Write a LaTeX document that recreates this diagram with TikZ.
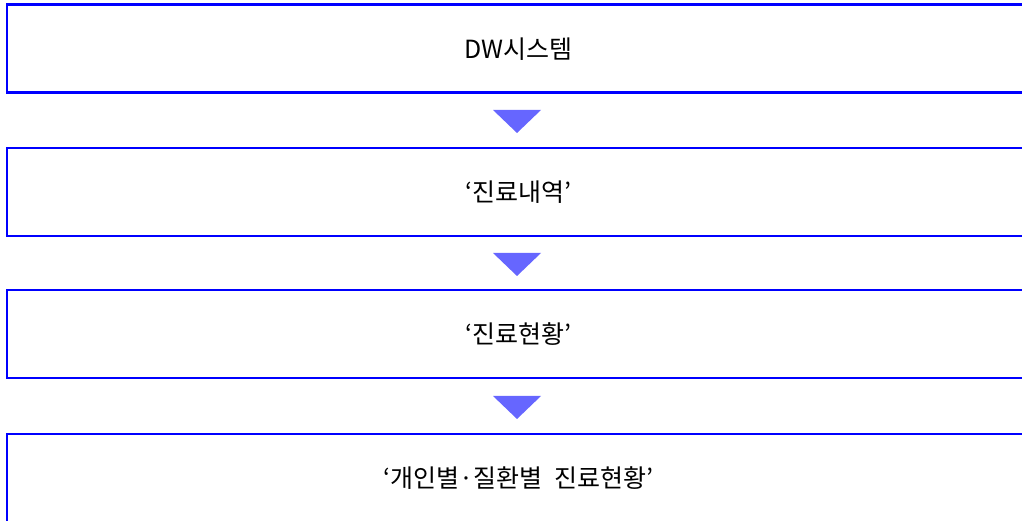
\documentclass[tikz,border=0pt]{standalone}
\usepackage{fontspec}
\setmainfont{Noto Sans CJK KR}
\definecolor{boxblue}{HTML}{0000FF}
\definecolor{trifill}{HTML}{6666FF}
\begin{document}
\begin{tikzpicture}[x=1pt,y=1pt,
  stage/.style={draw=boxblue, line width=2.5pt, minimum width=1023pt, minimum height=88pt, inner sep=0pt, font=\fontsize{25}{30}\selectfont},
  arrowtri/.style={fill=trifill, draw=none}]
\useasboundingbox (0,0) rectangle (1022,521);
\clip (0,0) rectangle (1022,521);
\node[stage] (s1) at (518.5,472.25) {DW시스템};
\node[stage] (s2) at (518.5,329) {‘진료내역’};
\node[stage] (s3) at (518.5,187) {‘진료현황’};
\node[stage] (s4) at (518.5,43) {‘개인별·질환별\ \ 진료현황’};
\coordinate (t1) at (517,411);
\coordinate (t2) at (517,268);
\coordinate (t3) at (517,125);
\foreach \t in {t1,t2,t3}{
  \fill[arrowtri] ([xshift=-24pt]\t) -- ([xshift=24pt]\t) -- ([yshift=-23pt]\t) -- cycle;
}
\end{tikzpicture}
\end{document}
